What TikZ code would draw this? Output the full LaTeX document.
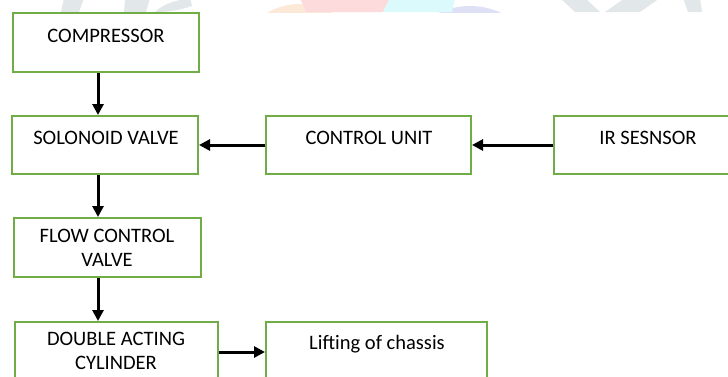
\documentclass[tikz,border=0pt]{standalone}
\usepackage{fontspec}
\setmainfont{Carlito}
\usetikzlibrary{arrows.meta}

\definecolor{boxgreen}{RGB}{112,173,71}
\definecolor{wmgray}{RGB}{226,231,233}
\definecolor{wmpeach}{RGB}{253,233,216}
\definecolor{wmpink}{RGB}{253,218,219}
\definecolor{wmcyan}{RGB}{218,250,252}
\definecolor{wmlav}{RGB}{222,225,246}

\tikzset{
  blockbox/.style={draw=boxgreen, line width=2bp, rectangle, inner sep=0pt, fill=white},
  blocktext/.style={font=\fontsize{20.6}{24}\selectfont, inner sep=0pt, align=center, text=black},
  flowarrow/.style={line width=3bp, -{Triangle[width=11bp,length=11bp]}}
}

\begin{document}
\begin{tikzpicture}[x=1bp, y=-1bp]
  \useasboundingbox (0,0) rectangle (728,376);

  % faint background marks along the top edge
  \begin{scope}
    \clip (0,0) rectangle (728,12);
    \fill[wmgray] (64,-2) -- (84,-2) -- (79,12) -- (61,12) -- cycle;
    \fill[wmgray] (125,-2) -- (150,-2) -- (146,12) -- (124,12) -- cycle;
    \fill[wmgray] (155,12) .. controls (165,2) and (180,0) .. (190,-2) -- (192,6) .. controls (180,10) and (170,12) .. cycle;
    \fill[wmpeach] (300,62) ellipse [x radius=62, y radius=58];
    \fill[wmlav] (470,72) ellipse [x radius=70, y radius=66];
    \fill[wmpink] (300,-2) -- (390,-2) -- (383,12) -- (306,12) -- cycle;
    \fill[wmcyan] (390,-2) -- (455,-2) -- (452,12) -- (383,12) -- cycle;
    \fill[wmgray] (560,-2) -- (585,-2) -- (600,12) -- (575,12) -- cycle;
    \fill[wmgray] (605,12) -- (625,-2) -- (660,-2) -- (640,12) -- cycle;
    \fill[wmgray] (683,-2) -- (700,-2) -- (702,12) -- (688,12) -- cycle;
  \end{scope}

  % blocks
  \node[blockbox, minimum width=186bp, minimum height=59bp] (comp) at (106,42.5) {};
  \node[blockbox, minimum width=186bp, minimum height=58bp] (sol)  at (105,145) {};
  \node[blockbox, minimum width=187bp, minimum height=59bp] (flow) at (107.5,247.5) {};
  \node[blockbox, minimum width=203bp, minimum height=60bp] (dbl)  at (116.5,352) {};
  \node[blockbox, minimum width=221bp, minimum height=60bp] (lift) at (376.5,352) {};
  \node[blockbox, minimum width=205bp, minimum height=58bp] (ctrl) at (368.5,145) {};
  \node[blockbox, minimum width=186bp, minimum height=58bp] (ir)   at (647,145) {};

  % labels
  \node[blocktext] (compt) at (106,36) {COMPRESSOR};
  \node[blocktext] (solt)  at (106,138) {SOLONOID VALVE};
  \node[blocktext] (flowt) at (107,248) {FLOW CONTROL\\VALVE};
  \node[blocktext] (dblt)  at (116,351) {DOUBLE ACTING\\CYLINDER};
  \node[blocktext] (liftt) at (377,344) {Lifting of chassis};
  \node[blocktext] (ctrlt) at (369,138) {CONTROL UNIT};
  \node[blocktext] (irt)   at (648,138) {IR SESNSOR};

  % connectors
  \coordinate (col) at (98,0);
  \draw[flowarrow] (comp.south -| col) -- (sol.north -| col);
  \draw[flowarrow] (sol.south -| col) -- (flow.north -| col);
  \draw[flowarrow] (flow.south -| col) -- (dbl.north -| col);
  \draw[flowarrow] (ir.west) -- (ctrl.east);
  \draw[flowarrow] (ctrl.west) -- (sol.east);
  \draw[flowarrow] (dbl.east) -- (lift.west);
\end{tikzpicture}
\end{document}
